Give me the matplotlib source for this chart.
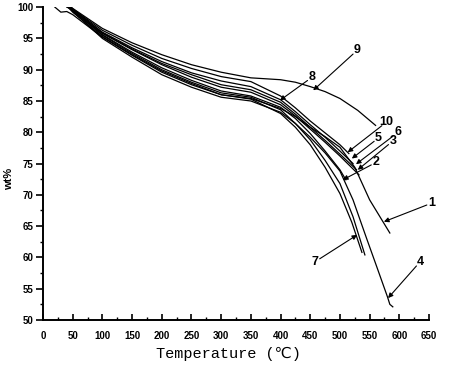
import matplotlib
matplotlib.use("Agg")
import matplotlib.pyplot as plt
from matplotlib.ticker import MultipleLocator

# ---- data ----
t1 = [20, 30, 40, 50, 100, 150, 200, 250, 300, 350, 400, 425, 450, 475, 500, 525, 550, 584]
w1 = [100, 99.2, 99.3, 98.8, 95.2, 92.3, 89.6, 87.6, 86.0, 85.4, 83.8, 82.5, 80.8, 79.3, 77.6, 74.4, 69.2, 63.9]
t2 = [45, 50, 100, 150, 200, 250, 300, 350, 400, 425, 450, 475, 500, 510]
w2 = [100, 99.5, 95.6, 92.8, 90.3, 88.3, 86.6, 85.8, 84.0, 82.2, 79.8, 77.0, 74.0, 72.4]
t3 = [42, 50, 100, 150, 200, 250, 300, 350, 400, 425, 450, 475, 500, 532]
w3 = [100, 99.4, 95.8, 93.2, 90.8, 88.8, 87.2, 86.4, 84.4, 82.6, 80.5, 78.4, 76.2, 73.2]
t4 = [45, 50, 100, 150, 200, 250, 300, 350, 400, 425, 450, 475, 500, 522, 545, 562, 580, 584, 589]
w4 = [100, 99.3, 95.0, 92.0, 89.2, 87.2, 85.6, 85.0, 83.2, 81.4, 79.2, 76.7, 73.8, 69.2, 63.0, 58.5, 53.7, 52.5, 52.1]
t5 = [40, 50, 100, 150, 200, 250, 300, 350, 400, 425, 450, 475, 500, 522]
w5 = [100, 99.6, 96.0, 93.5, 91.3, 89.5, 88.2, 87.3, 85.2, 83.3, 81.2, 79.2, 77.0, 75.0]
t6 = [48, 50, 100, 150, 200, 250, 300, 350, 400, 425, 450, 475, 500, 528]
w6 = [100, 99.7, 95.9, 93.3, 91.0, 89.2, 87.6, 86.8, 84.8, 82.9, 80.8, 78.7, 76.5, 74.0]
t7 = [42, 50, 100, 150, 200, 250, 300, 350, 400, 425, 450, 475, 500, 520, 537]
w7 = [100, 99.2, 95.3, 92.4, 89.8, 87.8, 86.0, 85.3, 83.0, 80.8, 78.0, 74.4, 70.2, 65.6, 60.8]
t8 = [45, 50, 100, 150, 200, 250, 300, 350, 400, 425, 450, 475, 500, 522, 542]
w8 = [100, 99.4, 95.5, 92.6, 90.0, 88.0, 86.3, 85.6, 83.6, 81.4, 78.8, 75.5, 71.8, 66.5, 60.4]
t9 = [45, 50, 100, 150, 200, 250, 300, 350, 400, 425, 450, 475, 500, 530, 560]
w9 = [100, 99.8, 96.6, 94.3, 92.4, 90.8, 89.6, 88.7, 88.4, 88.0, 87.3, 86.5, 85.4, 83.5, 81.1]
t10 = [46, 50, 100, 150, 200, 250, 300, 350, 400, 425, 450, 475, 500, 515]
w10 = [100, 99.7, 96.3, 93.9, 91.8, 90.2, 88.9, 88.1, 85.8, 83.9, 81.8, 79.9, 78.0, 76.6]

labels = ["1", "2", "3", "4", "5", "6", "7", "8", "9", "10"]
label_xy = [(655, 68.7), (561, 75.2), (589, 78.6), (635, 59.3), (565, 79.1),
            (598, 80.0), (458, 59.3), (453, 88.8), (529, 93.1), (578, 81.6)]
tip_xy = [(574, 65.7), (505, 72.4), (530, 74.0), (581, 53.5), (520, 75.8),
          (527, 74.9), (529, 63.6), (399, 85.1), (455, 86.7), (513, 76.8)]

curves = [(t1, w1), (t2, w2), (t3, w3), (t4, w4), (t5, w5),
          (t6, w6), (t7, w7), (t8, w8), (t9, w9), (t10, w10)]

fig = plt.figure(figsize=(4.5, 3.76), dpi=100)
ax = fig.add_axes([0.0956, 0.149, 0.8578, 0.832])

for t, w in curves:
    ax.plot(t, w, color="black", lw=0.9)

for lab, (lx, ly), (tx, ty) in zip(labels, label_xy, tip_xy):
    ax.annotate("", xy=(tx, ty), xytext=(lx, ly),
                arrowprops=dict(arrowstyle="-|>", lw=0.8, color="black",
                                mutation_scale=7, shrinkA=4, shrinkB=0))
    ax.text(lx, ly, lab, fontsize=9, fontweight="bold",
            family=["Liberation Sans", "DejaVu Sans"], ha="center", va="center")

ax.set_xlim(0, 650)
ax.set_ylim(50, 100)
ax.xaxis.set_major_locator(MultipleLocator(50))
ax.xaxis.set_minor_locator(MultipleLocator(25))
ax.yaxis.set_major_locator(MultipleLocator(5))
ax.yaxis.set_minor_locator(MultipleLocator(2.5))
ax.spines["top"].set_visible(False)
ax.spines["right"].set_visible(False)
ax.spines["left"].set_linewidth(1.4)
ax.spines["bottom"].set_linewidth(1.4)
ax.tick_params(axis="x", which="major", direction="in", length=4, width=1.2, pad=8)
ax.tick_params(axis="x", which="minor", direction="in", length=2.5, width=1.0)
ax.tick_params(axis="y", which="major", direction="out", length=5, width=1.2, pad=2)
ax.tick_params(axis="y", which="minor", direction="out", length=2.5, width=1.0)
for lb in ax.get_xticklabels() + ax.get_yticklabels():
    lb.set_fontsize(7)
    lb.set_fontweight("bold")
    lb.set_family(["Liberation Sans", "DejaVu Sans"])

ax.set_ylabel("wt%", fontsize=8, fontweight="bold",
              family=["Liberation Sans", "DejaVu Sans"], labelpad=1)
ax.yaxis.set_label_coords(-0.075, 0.45)
ax.set_xlabel("Temperature (\u2103)", fontsize=11,
              family=["Liberation Mono", "DejaVu Sans Mono", "DejaVu Sans"], labelpad=5)
ax.xaxis.set_label_coords(0.48, -0.085)

fig.savefig("out.png", dpi=100)
